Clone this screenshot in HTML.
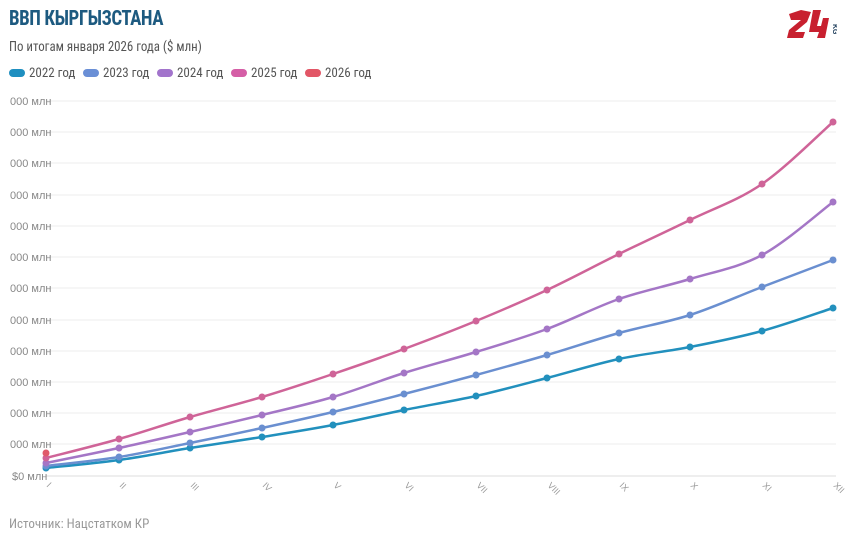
<!DOCTYPE html>
<html><head><meta charset="utf-8"><style>
body{margin:0;background:#fff;width:850px;height:541px;overflow:hidden;font-family:"Roboto Condensed","Liberation Sans Narrow","Liberation Sans",sans-serif;}
.t{position:absolute;left:9px;top:7px;font-size:21px;font-weight:bold;color:#1d5a80;letter-spacing:-0.5px;transform:scaleX(0.9);transform-origin:left}
.s{position:absolute;left:9px;top:39px;font-size:14px;color:#555;transform:scaleX(0.92);transform-origin:left}
.lg{position:absolute;top:66px;font-size:13px;color:#555;}
.lg i{display:inline-block;width:16px;height:8px;border-radius:4px;margin-right:4px;vertical-align:0px}
.src{position:absolute;left:9px;top:517px;font-size:13px;color:#999}
</style></head><body>
<div class="t">ВВП КЫРГЫЗСТАНА</div>
<div class="s">По итогам января 2026 года ($ млн)</div>
<div class="lg" style="left:9px"><i style="background:#1f8fc0"></i>2022 год</div>
<div class="lg" style="left:83px"><i style="background:#6a8fd6"></i>2023 год</div>
<div class="lg" style="left:157px"><i style="background:#a274cc"></i>2024 год</div>
<div class="lg" style="left:231px"><i style="background:#d55ea6"></i>2025 год</div>
<div class="lg" style="left:305px"><i style="background:#e25666"></i>2026 год</div>
<div class="src">Источник: Нацстатком КР</div>
<svg style="position:absolute;left:787px;top:8px" width="50" height="34" viewBox="0 0 50 34">
<path d="M2 6 L14 2 L24 4 L20 14 L8 24 L18 24 L16 30 L0 30 L2 22 L14 12 L4 12Z" fill="#c8202f"/>
<path d="M26 2 L34 2 L30 18 L34 18 L36 10 L42 10 L38 30 L30 30 L32 24 L22 24Z" fill="#c8202f"/>
<text x="46" y="16" font-size="7" font-weight="bold" fill="#1d3c5a" transform="rotate(90 46 16)" font-family="Liberation Sans">KG</text>
</svg>
<svg id="c" style="position:absolute;left:0;top:0" width="850" height="541"></svg>
<script>
var s='',ys=[101,132,163,195,226,257,288,320,351,382,413,444,476];
ys.forEach(function(y,i){s+='<line x1="46" x2="836" y1="'+y+'" y2="'+y+'" stroke="'+(i==12?'#ddd':'#eee')+'" stroke-width="1"/>';
s+='<text x="'+(i==12?12:10)+'" y="'+(y+4)+'" font-size="11" fill="#888" font-family="Liberation Sans">'+(i==12?'$0 млн':'000 млн')+'</text>';});
var xs=[46,119,190,262,333,404,476,547,619,690,762,833],rn=['I','II','III','IV','V','VI','VII','VIII','IX','X','XI','XII'];
xs.forEach(function(x,i){s+='<text x="'+x+'" y="486" font-size="9" fill="#999" font-family="Liberation Sans" transform="rotate(45 '+x+' 486)">'+rn[i]+'</text>';});
var D=[['#2290bd',[468,460,448,437,425,410,396,378,359,347,331,308]],
['#6a8fd0',[466,457,443,428,412,394,375,355,333,315,287,260]],
['#a476c6',[463,448,432,415,397,373,352,329,299,279,255,202]],
['#cf6498',[458,439,417,397,374,349,321,290,254,220,184,122]],
['#e05a6a',[453]]];
D.forEach(function(d){var c=d[0],p=d[1].map(function(y,i){return [xs[i],y]});
if(p.length>1){var path='M'+p[0];for(var i=0;i<p.length-1;i++){var p0=p[i-1]||p[i],p1=p[i],p2=p[i+1],p3=p[i+2]||p2;
path+=' C'+(p1[0]+(p2[0]-p0[0])/6)+','+(p1[1]+(p2[1]-p0[1])/6)+' '+(p2[0]-(p3[0]-p1[0])/6)+','+(p2[1]-(p3[1]-p1[1])/6)+' '+p2;}
s+='<path d="'+path+'" fill="none" stroke="'+c+'" stroke-width="2.5"/>';}
p.forEach(function(q){s+='<circle cx="'+q[0]+'" cy="'+q[1]+'" r="3.5" fill="'+c+'"/>';});});
document.getElementById('c').innerHTML=s;
</script>
</body></html>
